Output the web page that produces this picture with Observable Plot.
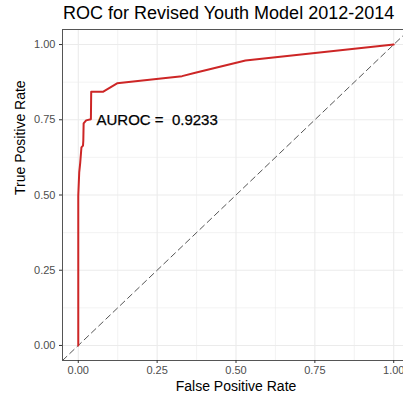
<!DOCTYPE html>
<html>
<head>
<meta charset="utf-8">
<script src="https://cdn.jsdelivr.net/npm/d3@7"></script>
<script src="https://cdn.jsdelivr.net/npm/@observablehq/plot@0.6"></script>
<style>
  html, body { margin: 0; padding: 0; background: #fff; overflow: hidden; }
  body { width: 403px; height: 400px; position: relative; font-family: "Liberation Sans", Arial, sans-serif; }
  #title { position: absolute; left: 63px; top: 3px; font-size: 18px; color: #000; white-space: nowrap; }
  #chart { position: absolute; left: 0; top: 0; width: 410px; }
  #chart svg { max-width: none !important; }
</style>
</head>
<body>
<div id="chart"></div>
<div id="title">ROC for Revised Youth Model 2012-2014</div>
<script>
// ROC curve points (false positive rate, true positive rate)
const fpr = [0, 0.000, 0.003, 0.006, 0.010, 0.015, 0.016, 0.017, 0.025, 0.040, 0.041, 0.078, 0.123, 0.255, 0.329, 0.371, 0.530, 1.000];
const tpr = [0, 0.498, 0.575, 0.605, 0.658, 0.664, 0.681, 0.738, 0.748, 0.752, 0.843, 0.843, 0.871, 0.886, 0.895, 0.906, 0.947, 1.000];

const auroc = 0.9233;
const axisLimits = [-0.05, 1.05];
const majorTicks = [0, 0.25, 0.5, 0.75, 1];
const minorTicks = [0.125, 0.375, 0.625, 0.875];

const roc = fpr.map((x, i) => ({x, y: tpr[i]}));
const diagonal = axisLimits.map(v => ({x: v, y: v}));

const gridColor = "#EBEBEB";
const tickColor = "#4D4D4D";

const chart = Plot.plot({
  width: 410,
  height: 400,
  marginLeft: 62,
  marginRight: 1,
  marginTop: 29,
  marginBottom: 40,
  style: {fontFamily: '"Liberation Sans", Arial, sans-serif', background: "#fff", maxWidth: "none"},
  x: {domain: axisLimits},
  y: {domain: axisLimits},
  marks: [
    Plot.ruleX(minorTicks, {stroke: gridColor, strokeWidth: 0.6}),
    Plot.ruleY(minorTicks, {stroke: gridColor, strokeWidth: 0.6}),
    Plot.ruleX(majorTicks, {stroke: gridColor, strokeWidth: 1.1}),
    Plot.ruleY(majorTicks, {stroke: gridColor, strokeWidth: 1.1}),
    Plot.line(diagonal, {x: "x", y: "y", stroke: "#555", strokeWidth: 1, strokeDasharray: "6,4", clip: true}),
    Plot.line(roc, {x: "x", y: "y", stroke: "#CD2626", strokeWidth: 2}),
    Plot.text([`AUROC =  ${auroc}`], {x: 0.25, y: 0.75, text: d => d, fontSize: 15, fill: "#000", textAnchor: "middle", stroke: "#000", strokeWidth: 0.25}),
    Plot.frame({stroke: "#555", strokeWidth: 1}),
    Plot.axisX(majorTicks, {tickFormat: d3.format(".2f"), tickSize: 3, tickPadding: 3, fontSize: 11, color: tickColor, stroke: "#333", label: null}),
    Plot.axisY(majorTicks, {tickFormat: d3.format(".2f"), tickSize: 3, tickPadding: 4, fontSize: 11, color: tickColor, stroke: "#333", label: null}),
    Plot.text(["False Positive Rate"], {frameAnchor: "bottom", dy: 30, text: d => d, fontSize: 14, fill: "#000"}),
    Plot.text(["True Positive Rate"], {frameAnchor: "left", dx: -42, rotate: -90, text: d => d, fontSize: 14, fill: "#000"})
  ]
});

document.getElementById("chart").appendChild(chart);
</script>
</body>
</html>
